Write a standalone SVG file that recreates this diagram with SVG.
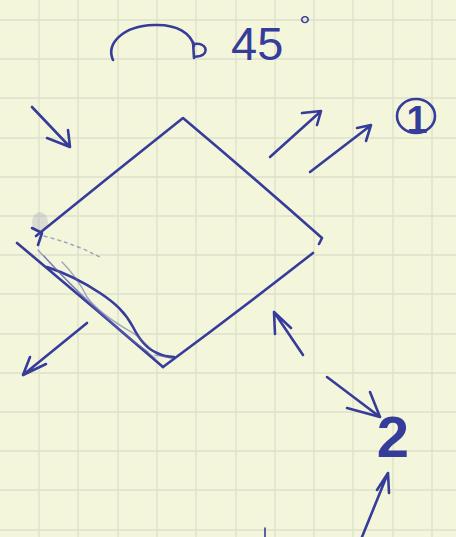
<svg xmlns="http://www.w3.org/2000/svg" width="456" height="537" viewBox="0 0 456 537">
<defs>
<style>
.paper{fill:#f4f6dc}
.grid{stroke:#cdd5c0;stroke-width:1.3;fill:none;opacity:.6}
.ink{stroke:#363c9a;stroke-width:2.6;fill:none;stroke-linecap:round;stroke-linejoin:round}
.thin{stroke:#5a5fae;stroke-width:1.4;fill:none;stroke-linecap:round;opacity:.55}
.txt{font-family:"Liberation Sans",Arial,sans-serif;fill:#363c9a}
</style>
</defs>
<rect class="paper" x="0" y="0" width="456" height="537"/>
<g id="grid" class="grid">
<path d="M39,0V537M78,0V537M118,0V537M157,0V537M196,0V537M236,0V537M275,0V537M314,0V537M353,0V537M393,0V537M432,0V537"/>
<path d="M0,20H456M0,59H456M0,98H456M0,138H456M0,177H456M0,216H456M0,255H456M0,294H456M0,334H456M0,373H456M0,412H456M0,451H456M0,490H456M0,530H456"/>
</g>
<g id="rotation">
<path class="ink" d="M113,60 C106,44 122,26 154,25 C178,24 191,34 194,46"/>
<path class="ink" d="M193,42 L194,58 M194,44 C206,42 210,53 200,56 L194,57"/>
<text class="txt" x="231" y="60" font-size="47">45<tspan dx="16" dy="-25" font-size="28">°</tspan></text>
</g>
<g id="square">
<ellipse cx="40" cy="222" rx="8" ry="10" fill="#8a90b8" opacity=".25"/>
<path class="ink" d="M36,236 Q110,176 183,118 Q252,176 322,238 L319,244"/>
<path class="ink" d="M313,253 Q240,310 163,367"/>
<path class="ink" d="M17,243 Q90,304 163,367"/>
<path class="ink" d="M32,228 L42,233 L38,245"/>
<path class="ink" stroke-width="2" d="M47,267 C65,273 85,283 100,293 C115,303 125,312 133,327 C138,337 145,348 157,353 C163,356 168,357 174,357"/>
<path class="thin" d="M62,262 C70,270 80,283 87,297 C95,308 110,320 133,333 C140,338 145,343 150,348"/>
<path class="thin" d="M38,250 Q95,312 155,358"/>
<path class="thin" d="M44,256 Q100,318 148,352"/>
<path class="thin" stroke-dasharray="3 4" d="M44,236 Q75,244 100,257"/>
<path class="thin" d="M155,355 L172,358"/>
</g>
<g id="label-1">
<ellipse class="ink" cx="416" cy="116" rx="19" ry="17" stroke-width="2.4"/>
<text class="txt" x="417" y="133" font-size="38" font-weight="bold" text-anchor="middle">1</text>
</g>
<g id="label-2">
<text class="txt" x="393" y="457" font-size="58" font-weight="bold" text-anchor="middle">2</text>
</g>
<g id="connectors" class="ink">
<path d="M32,107 L70,147 M68,130 L70,147 L47,138"/>
<path d="M270,157 L320,112 M302,113 L321,111 L317,125"/>
<path d="M310,172 L370,126 M357,128 L371,125 L366,141"/>
<path d="M87,323 L23,375 M30,357 L23,375 L46,364"/>
<path d="M303,355 L274,312 M275,334 L274,312 L291,328"/>
<path d="M327,377 L380,417 M370,392 L380,417 L347,408"/>
<path d="M362,537 L388,473 M377,490 L388,473 L389,493"/>
<path d="M265,528 L265,537" stroke-width="1.6"/>
</g>
</svg>
